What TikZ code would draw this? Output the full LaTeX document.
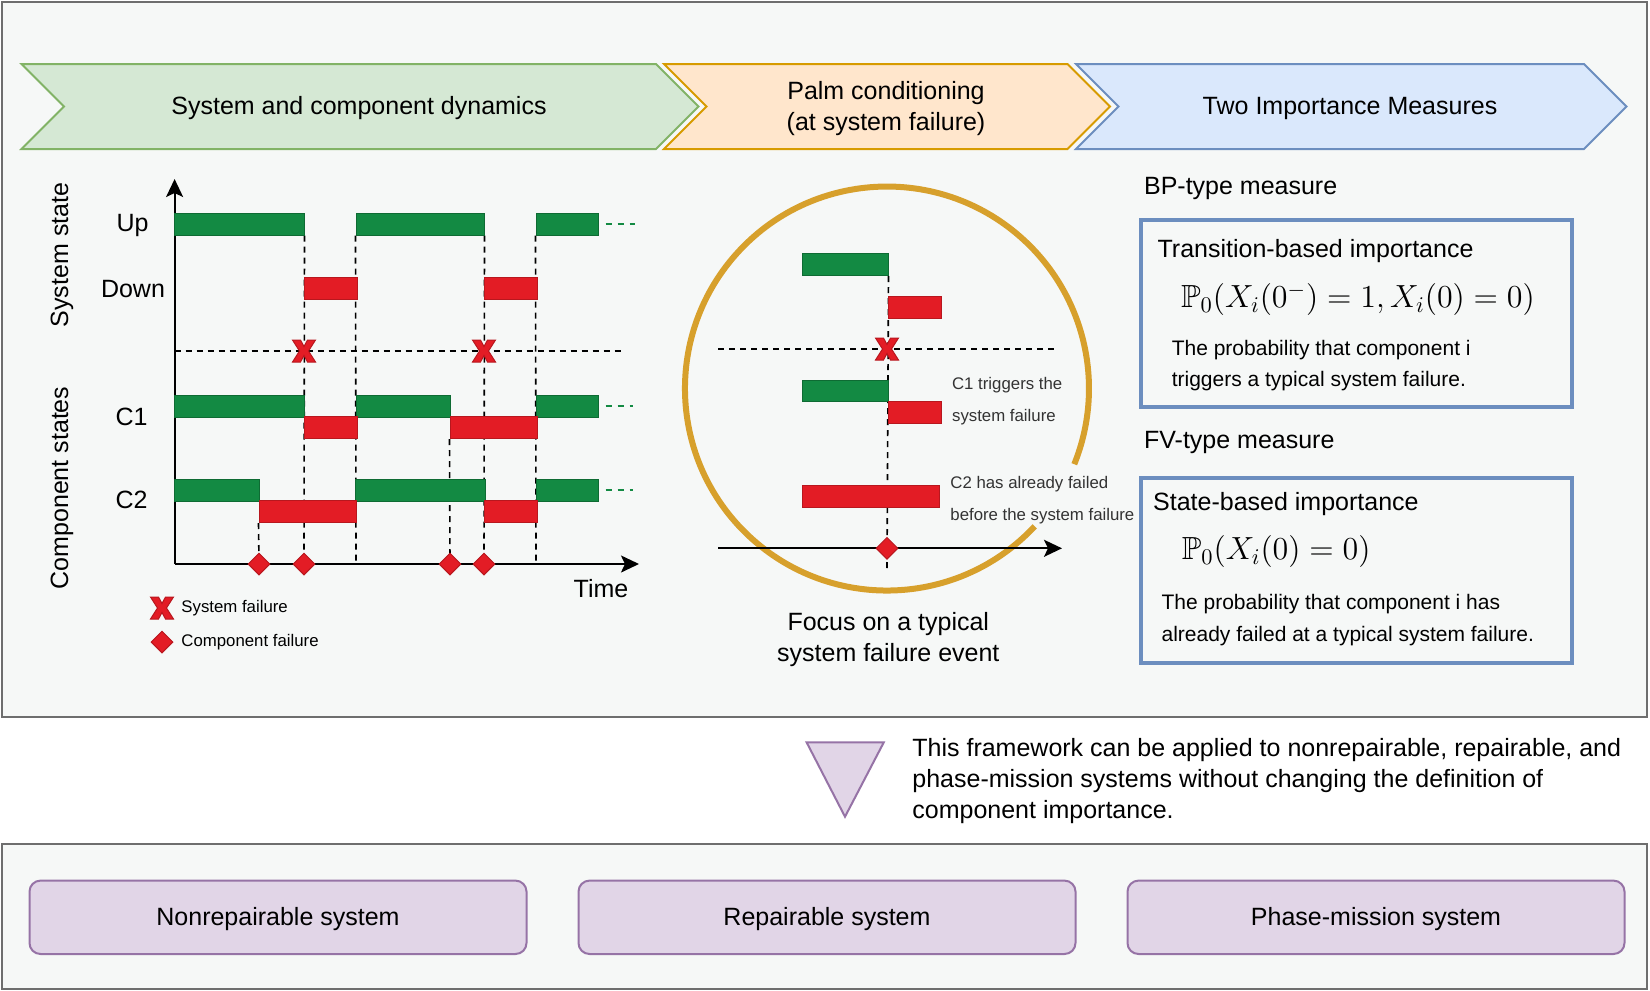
\RequirePackage{fix-cm}
\documentclass[tikz,border=0pt]{standalone}
\usepackage{amssymb}
\usepackage{fontspec}
\setmainfont{Liberation Sans}
\usetikzlibrary{arrows.meta,positioning,shapes.geometric,fit}
\pgfdeclarelayer{panels}
\pgfdeclarelayer{guides}
\pgfsetlayers{panels,guides,main}
\definecolor{PanelFill}{HTML}{F6F8F7}
\definecolor{PanelLine}{HTML}{6E6E6E}
\definecolor{BarGreen}{HTML}{138A43}
\definecolor{BarGreenLine}{HTML}{0E6B33}
\definecolor{BarRed}{HTML}{E31C25}
\definecolor{BarRedLine}{HTML}{B8171E}
\definecolor{GreenFill}{HTML}{D5E8D4}
\definecolor{GreenLine}{HTML}{82B366}
\definecolor{OrangeFill}{HTML}{FFE6CC}
\definecolor{OrangeLine}{HTML}{D79B00}
\definecolor{BlueFill}{HTML}{DAE8FC}
\definecolor{BlueLine}{HTML}{6C8EBF}
\definecolor{PurpleFill}{HTML}{E1D5E7}
\definecolor{PurpleLine}{HTML}{9673A6}
\definecolor{RingGold}{HTML}{D7A02C}
\tikzset{
  MainText/.style={font=\fontsize{12.5}{15.5}\selectfont, inner sep=0pt, yshift=-1pt},
  SmallText/.style={font=\fontsize{8.4}{16}\selectfont, inner sep=0pt, align=left},
  NoteText/.style={SmallText, text=black!80, yshift=-0.5pt},
  DescText/.style={font=\fontsize{10.5}{15.8}\selectfont, inner sep=0pt, align=left, yshift=-1pt},
  MathText/.style={font=\fontsize{16}{19}\selectfont, inner sep=0pt},
  GreenBar/.style={draw=BarGreenLine, fill=BarGreen, line width=0.5pt, inner sep=0pt},
  RedBar/.style={draw=BarRedLine, fill=BarRed, line width=0.5pt, inner sep=0pt},
  FailDiamond/.style={diamond, draw=BarRedLine, fill=BarRed, line width=0.5pt,
    inner sep=0pt, minimum width=11pt, minimum height=11pt},
  VDash/.style={line width=0.8pt, dash pattern=on 3pt off 2.5pt},
  MoreDash/.style={BarGreen, line width=0.8pt, dash pattern=on 3pt off 3pt},
  Axis/.style={line width=1pt, -{Stealth[length=9pt,width=8.5pt,inset=2pt]}},
  Panel/.style={fill=PanelFill, draw=PanelLine, line width=1.3pt},
  MeasureBox/.style={draw=BlueLine, line width=2pt},
  SysBox/.style={rectangle, rounded corners=5.5pt, draw=PurpleLine, fill=PurpleFill,
    line width=1pt, minimum width=248.5pt, minimum height=36.7pt,
    font=\fontsize{12.5}{15.5}\selectfont, text height=9pt, text depth=1pt},
  SysFail/.pic={
    \draw[fill=BarRed, draw=BarRedLine, line width=0.5pt]
      (-11.5,-11) -- (-3.5,-11) -- (0,-4.5) -- (3.5,-11) -- (11.5,-11) -- (4.5,0)
      -- (11.5,11) -- (3.5,11) -- (0,4.5) -- (-3.5,11) -- (-11.5,11) -- (-4.5,0) -- cycle;
  }
}

\begin{document}
\begin{tikzpicture}[x=0.5pt,y=-0.5pt]
  \useasboundingbox (0,0) rectangle (1650,991);
  \begin{pgfonlayer}{panels}
    \fill[white] (0,0) rectangle (1650,991);
    \draw[Panel] (2,2) rectangle (1647,717);
    \draw[Panel] (2,844) rectangle (1647,989);
  \end{pgfonlayer}

  % three phases
  \draw[GreenLine, fill=GreenFill, line width=1pt] (21.5,64) -- (656,64) -- (698.5,106.5)
    -- (656,149) -- (21.5,149) -- (64,106.5) -- cycle;
  \draw[OrangeLine, fill=OrangeFill, line width=1pt] (664,64) -- (1067.5,64) -- (1110,106.5)
    -- (1067.5,149) -- (664,149) -- (706.5,106.5) -- cycle;
  \draw[BlueLine, fill=BlueFill, line width=1pt] (1076,64) -- (1584,64) -- (1626.5,106.5)
    -- (1584,149) -- (1076,149) -- (1118.5,106.5) -- cycle;
  \node[MainText] (dyn) at (359,106.5) {System and component dynamics};
  \node[MainText, align=center] (palm) at (886,106.5) {Palm conditioning\\(at system failure)};
  \node[MainText] (two) at (1350,106.5) {Two Importance Measures};

  % sample path of system and components
  \coordinate (o) at (174.6,564);
  \coordinate (ytip) at (174.6,179);
  \coordinate (xtip) at (639,564);
  \draw[Axis] (o) -- (ytip);
  \draw[Axis] (o) -- (xtip);
  \node[MainText] (up) at (132.5,223) {Up};
  \node[MainText] (down) at (133,287) {Down};
  \node[MainText] (c1) at (131.6,415) {C1};
  \node[MainText] (c2) at (131.6,498) {C2};
  \node[MainText, rotate=90] (sysst) at (62,253) {System state};
  \node[MainText, rotate=90] (compst) at (62,486) {Component states};
  \node[MainText] (time) at (601,587) {Time};

  \foreach \n/\a/\b/\y in {up1/174.6/304/213, up2/356/484/213, up3/536/598/213,
      c1g1/174.6/304/395, c1g2/356/450/395, c1g3/536/598/395,
      c2g1/174.6/259/479, c2g2/355/485/479, c2g3/536/598/479}
    \node[GreenBar, fit={(\a,\y) (\b,\y+22)}] (\n) {};
  \foreach \n/\a/\b/\y in {dn1/304/357/277, dn2/484/537/277,
      c1r1/304/357/416.5, c1r2/450/537/416.5,
      c2r1/259/356/500.5, c2r2/484/537/500.5}
    \node[RedBar, fit={(\a,\y) (\b,\y+22)}] (\n) {};

  \foreach \t/\x in {t1/259, t2/304, t3/356, t4/450, t5/484, t6/536}
    \coordinate (\t) at (\x,564);
  \coordinate (sl) at (174.6,351);
  \coordinate (sr) at (622.6,351);
  \begin{pgfonlayer}{guides}
    \draw[VDash] (sl) -- (sr);
    \draw[VDash] (up1.south east) -- (t2);
    \draw[VDash] (up2.south west) -- (t3);
    \draw[VDash] (up2.south east) -- (t5);
    \draw[VDash] (up3.south west) -- (t6);
    \draw[VDash] (c2r1.south west) -- (t1);
    \draw[VDash] (c1r2.south west) -- (t4);
  \end{pgfonlayer}
  \draw[MoreDash] ([xshift=3.5pt]up3.east) -- ++(29,0);
  \draw[MoreDash] ([xshift=3.5pt]c1g3.east) -- ++(27,0);
  \draw[MoreDash] ([xshift=3.5pt]c2g3.east) -- ++(27,0);
  \foreach \t in {t1,t2,t4,t5}
    \node[FailDiamond] (fd-\t) at (\t) {};
  \pic (sf1) at (304,351) {SysFail};
  \pic (sf2) at (484,351) {SysFail};

  % legend
  \pic (lgx) at (162,608) {SysFail};
  \node[SmallText, anchor=west] (lgxt) at (181,608) {System failure};
  \node[FailDiamond] (lgd) at (162,642) {};
  \node[SmallText, anchor=west] (lgdt) at (181,642) {Component failure};

  % zoom on one system failure
  \draw[RingGold, line width=3pt] (1034.7,526.3) arc[start angle=43, end angle=382, radius=202];
  \node[GreenBar, fit={(802,253) (888,275.5)}] (zg1) {};
  \node[RedBar, fit={(888,296) (941,318)}] (zr1) {};
  \node[GreenBar, fit={(802,380) (888,401.5)}] (zg2) {};
  \node[RedBar, fit={(888,401.5) (941,423)}] (zr2) {};
  \node[RedBar, fit={(802,485) (939,507.5)}] (zr3) {};
  \coordinate (zl) at (718,349);
  \coordinate (zr) at (1055,349);
  \coordinate (zo) at (718,548.3);
  \coordinate (zt) at (1062,548.3);
  \coordinate (zf) at (887,548.3);
  \coordinate (zb) at (887,570);
  \begin{pgfonlayer}{guides}
    \draw[VDash] (zl) -- (zr);
    \draw[VDash] (zg1.south east) -- (zb);
  \end{pgfonlayer}
  \draw[Axis] (zo) -- (zt);
  \node[FailDiamond] (zd) at (zf) {};
  \pic (zx) at (887,349) {SysFail};
  \node[NoteText, anchor=west] (zn1) at (951.7,400.2) {C1 triggers the\\system failure};
  \node[NoteText, anchor=west] (zn2) at (950,499.2) {C2 has already failed\\before the system failure};
  \node[MainText, align=center] (focus) at (888.3,637.8) {Focus on a typical\\system failure event};

  % the two measures
  \node[MainText, anchor=west] (bp) at (1143.7,186) {BP-type measure};
  \draw[MeasureBox] (1140.5,220.3) rectangle (1572,407);
  \node[MainText, anchor=west] (tbi) at (1157.2,249.3) {Transition-based importance};
  \node[MathText] (bpf) at (1358,299.3) {$\mathbb{P}_0(X_i(0^-)=1,X_i(0)=0)$};
  \node[DescText, anchor=west] (bpd) at (1171.4,363.5)
    {The probability that component i\\triggers a typical system failure.};
  \node[MainText, anchor=west] (fv) at (1143.7,440.7) {FV-type measure};
  \draw[MeasureBox] (1140.5,478) rectangle (1572,663);
  \node[MainText, anchor=west] (sbi) at (1152.8,502.3) {State-based importance};
  \node[MathText, anchor=west] (fvf) at (1181.5,551.7) {$\mathbb{P}_0(X_i(0)=0)$};
  \node[DescText, anchor=west] (fvd) at (1161.2,618.2)
    {The probability that component i has\\already failed at a typical system failure.};

  % applications
  \draw[PurpleLine, fill=PurpleFill, line width=1pt] (806.6,742.3) -- (883.8,742.3)
    -- (845,816.7) -- cycle;
  \node[MainText, anchor=west, align=left] (note) at (912,779)
    {This framework can be applied to nonrepairable, repairable, and\\
     phase-mission systems without changing the definition of\\
     component importance.};
  \node[SysBox] (sys1) at (278,917.3) {Nonrepairable system};
  \node[SysBox, right=25pt of sys1] (sys2) {Repairable system};
  \node[SysBox, right=25pt of sys2] (sys3) {Phase-mission system};
\end{tikzpicture}
\end{document}
